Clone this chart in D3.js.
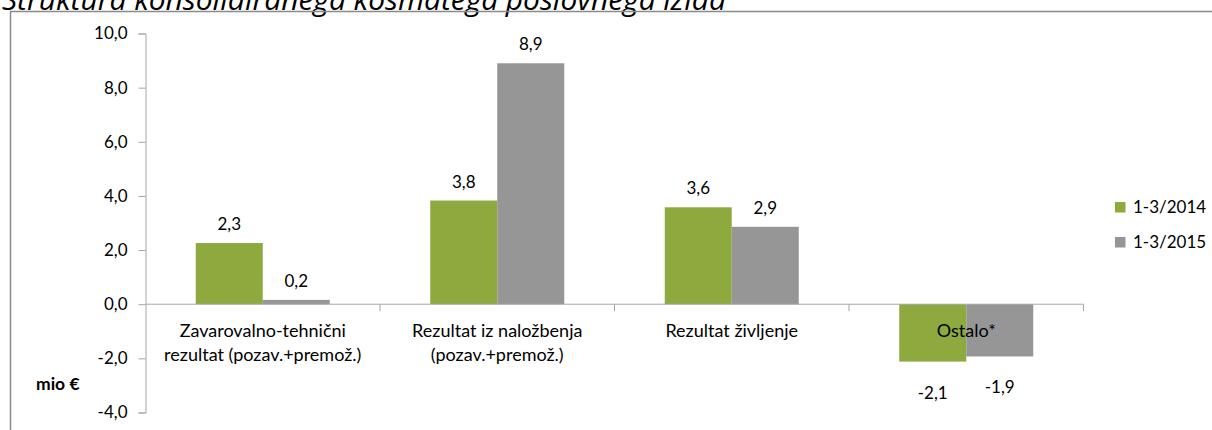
<!DOCTYPE html>
<html>
<head>
<meta charset="utf-8">
<script src="https://cdn.jsdelivr.net/npm/d3@7"></script>
<style>
  body { margin: 0; background: #fff; }
  svg { display: block; }
  text { font-family: Lato, "Open Sans", sans-serif; fill: #000; }
</style>
</head>
<body>
<div id="chart"></div>
<script>
'use strict';

// data
const categories = [
  ["Zavarovalno-tehnični", "rezultat (pozav.+premož.)"],
  ["Rezultat iz naložbenja", "(pozav.+premož.)"],
  ["Rezultat življenje"],
  ["Ostalo*"]
];
const seriesNames = ["1-3/2014", "1-3/2015"];
const values2014 = [2.26, 3.83, 3.58, -2.12];
const values2015 = [0.16, 8.9, 2.86, -1.93];
const yTicks = [-4, -2, 0, 2, 4, 6, 8, 10];
const colors = ["#8eaa3e", "#969696"];

const W = 1212, H = 430;

let svg = d3.select("#chart")
  .append("svg")
    .attr("width", W)
    .attr("height", H);

// title (cut off at top in the original)
let title = svg.append("text")
  .attr("x", 2)
  .attr("y", 10)
  .style("font-family", "'Open Sans', sans-serif")
  .style("font-style", "italic")
  .style("font-size", "24px")
  .text("Struktura konsolidiranega kosmatega poslovnega izida");
// scale the title so it spans the same width as in the picture
let tw = title.node().getComputedTextLength();
title.style("font-size", (24 * 724 / tw) + "px");

// outer frame
svg.append("path")
  .attr("d", "M10.5," + H + "V11.5H" + W)
  .attr("fill", "none")
  .attr("stroke", "#8a8a8a")
  .attr("stroke-width", 1.5);

let catKeys = categories.map((c, i) => i);

let x = d3.scaleBand()
  .domain(catKeys)
  .range([145.5, 1083.5]);

let gap = x.bandwidth() * 0.2143;
let x1 = d3.scaleBand()
  .domain([0, 1])
  .range([gap, x.bandwidth() - gap]);

let y = d3.scaleLinear()
  .domain([-4, 10])
  .range([412.5, 33.5]);

let fmt = v => d3.format(".1f")(v).replace(".", ",").replace("−", "-");

// y axis
let yAxis = svg.append("g")
  .attr("transform", "translate(145.5,0)")
  .call(d3.axisLeft(y).tickValues(yTicks).tickSize(7).tickPadding(11).tickFormat(fmt));
yAxis.select(".domain").attr("stroke", "#a6a6a6");
yAxis.selectAll(".tick line").attr("stroke", "#a6a6a6");
yAxis.selectAll(".tick text")
  .style("font-size", "17px")
  .attr("fill", "#000");

// bars
let rows = [];
categories.forEach(function(c, i) {
  rows.push({cat: i, s: 0, v: values2014[i]});
  rows.push({cat: i, s: 1, v: values2015[i]});
});

svg.append("g").selectAll("rect")
  .data(rows)
  .enter()
  .append("rect")
  .attr("x", d => x(d.cat) + x1(d.s))
  .attr("y", d => y(Math.max(0, d.v)))
  .attr("width", x1.bandwidth())
  .attr("height", d => Math.abs(y(d.v) - y(0)))
  .style("fill", d => colors[d.s]);

// x axis (line at zero, ticks between categories)
let xAxis = svg.append("g");
xAxis.append("line")
  .attr("x1", 145.5).attr("x2", 1083.5)
  .attr("y1", y(0)).attr("y2", y(0))
  .attr("stroke", "#a6a6a6");
xAxis.selectAll(".sep")
  .data(catKeys.slice(1).concat([catKeys.length]))
  .enter()
  .append("line")
  .attr("x1", d => d < catKeys.length ? x(d) : x.range()[1])
  .attr("x2", d => d < catKeys.length ? x(d) : x.range()[1])
  .attr("y1", y(0)).attr("y2", y(0) + 7)
  .attr("stroke", "#a6a6a6");

// value labels
svg.append("g").selectAll("text")
  .data(rows)
  .enter()
  .append("text")
  .attr("x", d => x(d.cat) + x1(d.s) + x1.bandwidth() / 2)
  .attr("y", d => d.v >= 0 ? y(d.v) - 13 : y(d.v) + 37)
  .attr("text-anchor", "middle")
  .style("font-size", "17px")
  .text(d => fmt(d.v));

// category labels (drawn over bars)
let catLabels = svg.append("g").selectAll("text")
  .data(categories)
  .enter()
  .append("text")
  .attr("x", (d, i) => x(i) + x.bandwidth() / 2)
  .attr("y", 337)
  .attr("text-anchor", "middle")
  .style("font-size", "18px");
catLabels.selectAll("tspan")
  .data(d => d)
  .enter()
  .append("tspan")
  .attr("x", function() { return d3.select(this.parentNode).attr("x"); })
  .attr("dy", (d, i) => i == 0 ? 0 : 24)
  .text(d => d);

// unit label
svg.append("text")
  .attr("x", 36)
  .attr("y", 390)
  .style("font-size", "17.5px")
  .style("font-weight", "bold")
  .text("mio €");

// legend
let legend = svg.append("g").selectAll("g")
  .data(seriesNames)
  .enter()
  .append("g")
  .attr("transform", (d, i) => "translate(1115," + (202 + i * 35) + ")");
legend.append("rect")
  .attr("width", 10.5)
  .attr("height", 10.5)
  .style("fill", (d, i) => colors[i]);
legend.append("text")
  .attr("x", 18)
  .attr("y", 10.5)
  .style("font-size", "17px")
  .text(d => d);
</script>
</body>
</html>
